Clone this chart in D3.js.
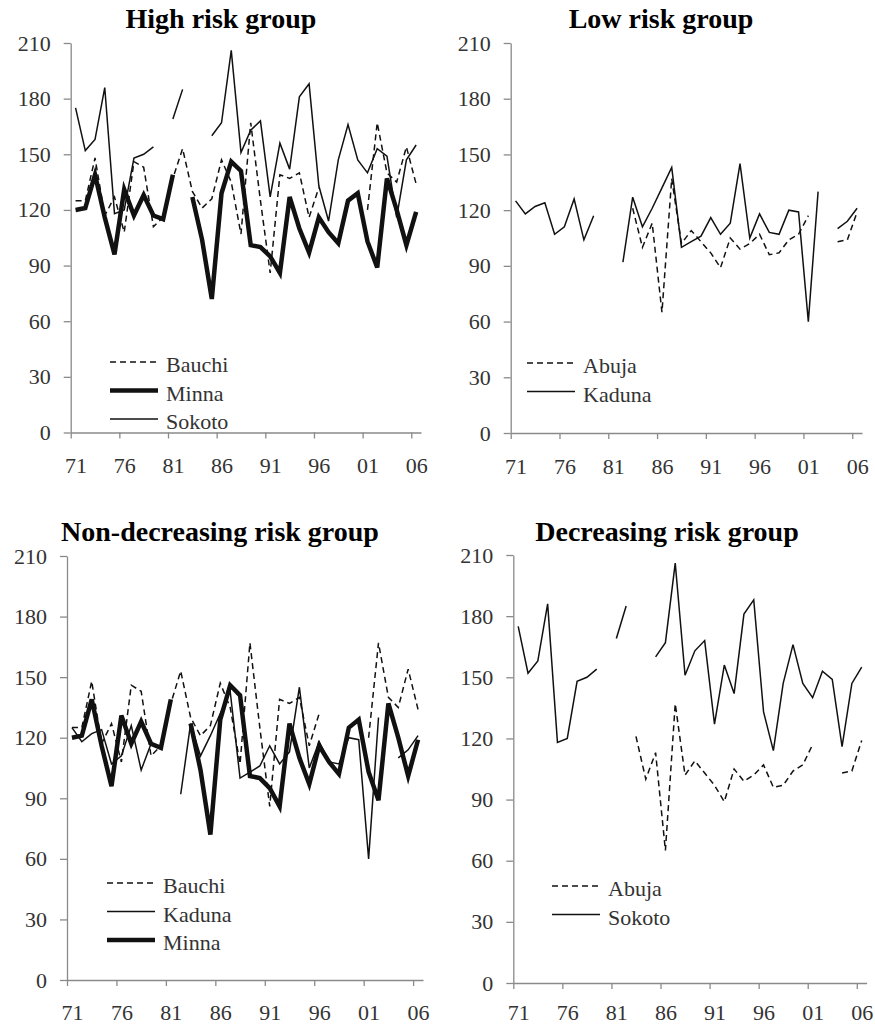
<!DOCTYPE html>
<html>
  <head>
    <meta charset="utf-8">
    <title>Rainfall risk groups</title>
    <style>
      body { margin: 0; background: #fff; }
      svg { display: block; }
      text { font-family: "Liberation Serif", "Times New Roman", serif; fill: #333; }
      .title { font-weight: bold; fill: #000; }
    </style>
    <script src="https://d3js.org/d3.v7.min.js"></script>
  </head>
  <body>
    <svg width="875" height="1027"></svg>
    <script>
      // one value per year, null = missing year
      const years = [1971, 1972, 1973, 1974, 1975, 1976, 1977, 1978, 1979, 1980,
                     1981, 1982, 1983, 1984, 1985, 1986, 1987, 1988, 1989, 1990,
                     1991, 1992, 1993, 1994, 1995, 1996, 1997, 1998, 1999, 2000,
                     2001, 2002, 2003, 2004, 2005, 2006];
      const xTickYears = [1971, 1976, 1981, 1986, 1991, 1996, 2001, 2006];
      const xTickLabels = ['71', '76', '81', '86', '91', '96', '01', '06'];
      const yTicks = [0, 30, 60, 90, 120, 150, 180, 210];

      const bauchi = [125, 125, 148, 117, 127, 108, 146, 143, 111, 116,
                      137, 153, 130, 121, 126, 147, 135, 107, 167, 125,
                      86, 139, 137, 140, 116, 132, null, null, null, null,
                      120, 167, 140, 135, 154, 134];
      const minna = [120, 121, 139, 116, 96, 131, 117, 128, 117, 115,
                     139, null, 127, 104, 72, 129, 146, 141, 101, 100,
                     95, 86, 127, 110, 97, 116, 108, 102, 125, 129,
                     103, 89, 137, 120, 101, 119];
      const sokoto = [175, 152, 158, 186, 118, 120, 148, 150, 154, null,
                      169, 185, null, null, 160, 167, 206, 151, 163, 168,
                      127, 156, 142, 181, 188, 133, 114, 147, 166, 147,
                      140, 153, 149, 116, 147, 155];
      const abuja = [null, null, null, null, null, null, null, null, null, null,
                     null, null, 121, 100, 113, 65, 137, 102, 109, 103,
                     97, 89, 105, 99, 102, 107, 96, 97, 104, 107,
                     117, null, null, 103, 104, 119];
      const kaduna = [125, 118, 122, 124, 107, 111, 126, 104, 117, null,
                      null, 92, 127, 111, 121, 132, 143, 100, 103, 106,
                      116, 107, 113, 145, 105, 118, 108, 107, 120, 119,
                      60, 130, null, 110, 114, 121];

      const styles = {
        dashed: { width: 1.5, dash: '6,4' },
        thin:   { width: 1.5, dash: null },
        thick:  { width: 4.5, dash: null }
      };

      const panels = [
        { title: 'High risk group', tx: 221, ty: 28,
          left: 70.7, right: 421, top: 43, bottom: 432.5, labelY: 25,
          lx: 110, ly: 365,
          series: [['Bauchi', bauchi, 'dashed'], ['Minna', minna, 'thick'], ['Sokoto', sokoto, 'thin']] },
        { title: 'Low risk group', tx: 661, ty: 28,
          left: 510.7, right: 862, top: 43, bottom: 433, labelY: 25,
          lx: 527, ly: 366,
          series: [['Abuja', abuja, 'dashed'], ['Kaduna', kaduna, 'thin']] },
        { title: 'Non-decreasing risk group', tx: 220, ty: 541,
          left: 67, right: 423, top: 556, bottom: 980, labelY: 24,
          lx: 107, ly: 886,
          series: [['Bauchi', bauchi, 'dashed'], ['Kaduna', kaduna, 'thin'], ['Minna', minna, 'thick']] },
        { title: 'Decreasing risk group', tx: 667, ty: 541,
          left: 513.3, right: 866.6, top: 555, bottom: 983, labelY: 21,
          lx: 552, ly: 889,
          series: [['Abuja', abuja, 'dashed'], ['Sokoto', sokoto, 'thin']] }
      ];

      const svg = d3.select('svg');
      const axisColor = '#8a8a8a';

      panels.forEach(p => {
        const g = svg.append('g');

        const x = d3.scaleLinear().domain([1971, 2007]).range([p.left, p.right]);
        const y = d3.scaleLinear().domain([0, 210]).range([p.bottom, p.top]);
        const half = x(1971.5) - x(1971);

        g.append('text')
          .attr('class', 'title')
          .attr('x', p.tx)
          .attr('y', p.ty)
          .attr('text-anchor', 'middle')
          .style('font-size', '28px')
          .text(p.title);

        const yAxis = g.append('g')
          .attr('transform', `translate(${p.left},0)`)
          .call(d3.axisLeft(y).tickValues(yTicks).tickSize(7).tickSizeOuter(0).tickPadding(13));
        const xAxis = g.append('g')
          .attr('transform', `translate(0,${p.bottom})`)
          .call(d3.axisBottom(x).tickValues(xTickYears).tickSize(6).tickSizeOuter(0)
            .tickFormat((d, i) => xTickLabels[i]));

        [yAxis, xAxis].forEach(a => {
          a.select('.domain').attr('stroke', axisColor).attr('stroke-width', 1.3);
          a.selectAll('.tick line').attr('stroke', axisColor).attr('stroke-width', 1.3);
          a.selectAll('.tick text')
            .attr('fill', '#333')
            .style('font-family', '"Liberation Serif", serif')
            .style('font-size', '22px');
        });
        xAxis.selectAll('.tick text').attr('x', half).attr('y', p.labelY);

        const line = d3.line()
          .defined(d => d != null)
          .x((d, i) => x(years[i] + 0.5))
          .y(d => y(d));

        p.series.forEach(([name, values, st]) => {
          const s = styles[st];
          g.append('path')
            .datum(values)
            .attr('fill', 'none')
            .attr('stroke', '#111')
            .attr('stroke-width', s.width)
            .attr('stroke-linejoin', 'miter')
            .attr('stroke-dasharray', s.dash)
            .attr('d', line);
        });

        const leg = g.selectAll('.leg')
          .data(p.series)
          .enter().append('g')
            .attr('transform', (d, i) => `translate(${p.lx},${p.ly + i * 28.5})`);
        leg.append('line')
          .attr('x1', 0).attr('x2', 48)
          .attr('y1', -3).attr('y2', -3)
          .attr('stroke', '#111')
          .attr('stroke-width', d => styles[d[2]].width)
          .attr('stroke-dasharray', d => styles[d[2]].dash);
        leg.append('text')
          .attr('x', 56)
          .attr('dy', '0.32em')
          .style('font-size', '22px')
          .text(d => d[0]);
      });
    </script>
  </body>
</html>
